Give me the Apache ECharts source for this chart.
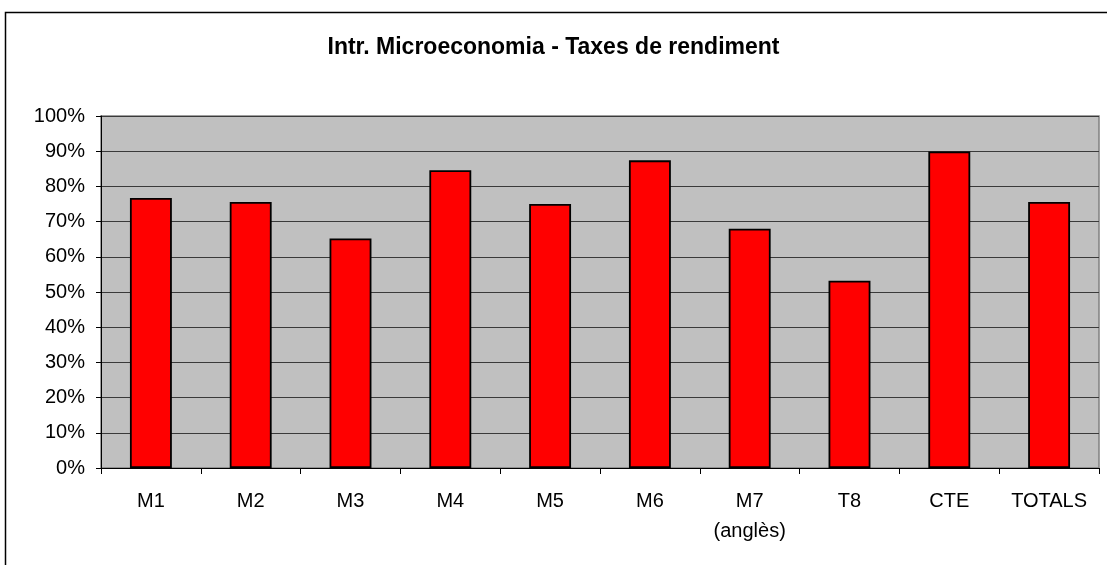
<!DOCTYPE html>
<html>
<head>
<meta charset="utf-8">
<script src="https://cdn.jsdelivr.net/npm/echarts@6/dist/echarts.min.js"></script>
<style>
html,body{margin:0;padding:0;background:#fff;}
#chart{width:1107px;height:565px;}
</style>
</head>
<body>
<div id="chart"></div>
<script>
const titleText = 'Intr. Microeconomia - Taxes de rendiment';
const categories = ['M1', 'M2', 'M3', 'M4', 'M5', 'M6', 'M7\n(anglès)', 'T8', 'CTE', 'TOTALS'];
const rates = [76.7, 75.6, 65.2, 84.6, 75.0, 87.4, 68.0, 53.2, 89.9, 75.6];
const yTicks = [0, 10, 20, 30, 40, 50, 60, 70, 80, 90, 100];

const font = 'Arial, "Liberation Sans", sans-serif';
const chart = echarts.init(document.getElementById('chart'), null, {renderer: 'canvas'});
chart.setOption({
  backgroundColor: '#ffffff',
  animation: false,
  title: {
    text: titleText,
    left: 'center',
    top: 31,
    textStyle: {fontFamily: font, fontSize: 23, fontWeight: 'bold', color: '#000'}
  },
  graphic: [{
    type: 'rect',
    shape: {x: 5.5, y: 12.5, width: 1300, height: 700},
    style: {fill: null, stroke: '#000', lineWidth: 1.5},
    silent: true
  }],
  grid: {
    left: 101, right: 8, top: 116, bottom: 97,
    show: true, backgroundColor: '#c0c0c0', borderColor: '#808080', borderWidth: 1.5
  },
  xAxis: {
    type: 'category',
    data: categories,
    boundaryGap: true,
    axisLine: {lineStyle: {color: '#000', width: 1}},
    axisTick: {show: true, length: 6, inside: false, alignWithLabel: false, lineStyle: {color: '#000'}},
    axisLabel: {fontFamily: font, fontSize: 20, color: '#000', margin: 18, lineHeight: 30, interval: 0}
  },
  yAxis: {
    type: 'value',
    min: yTicks[0],
    max: yTicks[yTicks.length - 1],
    interval: 10,
    axisLine: {show: true, lineStyle: {color: '#000', width: 1}},
    axisTick: {show: true, length: 5, lineStyle: {color: '#000'}},
    axisLabel: {fontFamily: font, fontSize: 20, color: '#000', margin: 16, formatter: '{value}%'},
    splitLine: {show: true, lineStyle: {color: '#3a3a3a', width: 1}}
  },
  series: [{
    type: 'bar',
    data: rates,
    barWidth: '42%',
    itemStyle: {color: '#ff0000', borderColor: '#000', borderWidth: 1.8}
  }]
});
</script>
</body>
</html>
